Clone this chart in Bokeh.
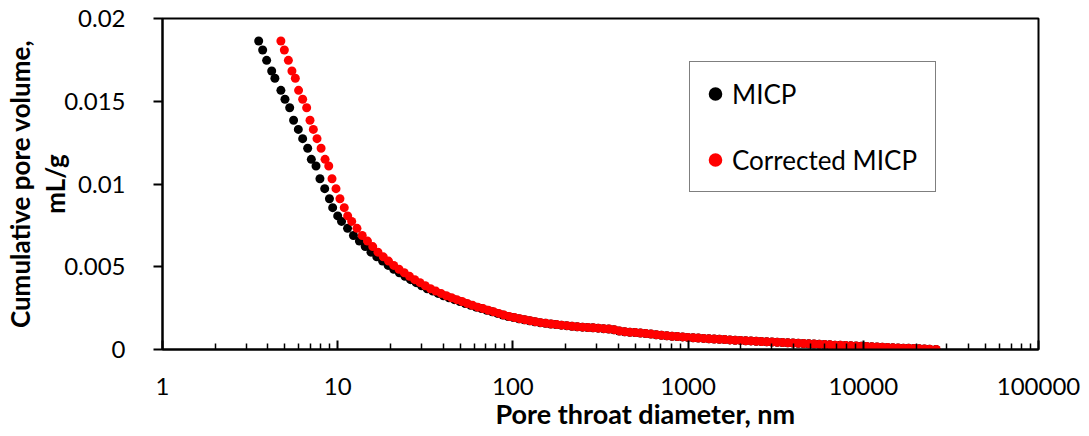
from bokeh.plotting import figure
from bokeh.models import (Legend, LegendItem, CustomJSTickFormatter, FixedTicker, Title)
from bokeh.embed import file_html
from bokeh.resources import INLINE

# ---- data ----
cum_volume = [
    0.01864, 0.01810, 0.01747, 0.01683, 0.01639, 0.01566, 0.01512, 0.01461, 0.01385, 0.01330,
    0.01274, 0.01216, 0.01149, 0.01109, 0.01032, 0.00972, 0.00911, 0.00857, 0.00807,
    0.00774, 0.00732, 0.00689, 0.00655, 0.00622, 0.00588, 0.00560, 0.00534, 0.00508, 0.00485,
    0.00464, 0.00442, 0.00422, 0.00404, 0.00385, 0.00367, 0.00353, 0.00339, 0.00325, 0.00313,
    0.00301, 0.00290, 0.00278, 0.00267, 0.00256, 0.00247, 0.00237, 0.00228, 0.00218, 0.00208,
    0.00199, 0.00193, 0.00186, 0.00180, 0.00174, 0.00168, 0.00162, 0.00158, 0.00154, 0.00151,
    0.00147, 0.00144, 0.00140, 0.00137, 0.00135, 0.00133, 0.00131, 0.00129, 0.00126, 0.00124,
    0.00119, 0.00112, 0.00107, 0.00104, 0.00102, 0.00099, 0.00096, 0.00093, 0.00089, 0.00086,
    0.00083, 0.00080, 0.00078, 0.00076, 0.00073, 0.00071, 0.00069, 0.00067, 0.00065, 0.00063,
    0.00062, 0.00060, 0.00058, 0.00056, 0.00055, 0.00053, 0.00052, 0.00050, 0.00048, 0.00047,
    0.00045, 0.00044, 0.00042, 0.00041, 0.00039, 0.00038, 0.00036, 0.00034, 0.00033, 0.00031,
    0.00030, 0.00028, 0.00026, 0.00025, 0.00024, 0.00022, 0.00021, 0.00019, 0.00018, 0.00016,
    0.00015, 0.00013, 0.00012, 0.00010, 0.00009, 0.00008, 0.00007, 0.00006, 0.00004, 0.00003,
    0.00002, 0.00000,
]

diam_micp = [
    3.54, 3.73, 3.93, 4.20, 4.38, 4.74, 5.00, 5.32, 5.60, 5.96,
    6.31, 6.74, 7.07, 7.52, 7.92, 8.43, 8.97, 9.36, 10.0,
    10.52, 11.38, 12.30, 13.30, 14.36, 15.49, 16.71, 18.04, 19.41, 20.89,
    22.48, 24.20, 26.05, 28.05, 30.11, 32.42, 34.85, 37.40, 40.16, 43.16,
    46.33, 49.80, 53.45, 57.39, 61.68, 66.15, 70.95, 76.10, 81.63, 87.55,
    93.90, 100.7, 108.0, 115.8, 124.2, 133.0, 142.6, 152.9, 164.0, 175.7,
    188.4, 202.0, 216.6, 232.1, 248.7, 266.5, 285.5, 305.9, 327.8, 351.3,
    376.4, 403.4, 433.0, 464.0, 497.2, 532.7, 570.8, 611.7, 655.5, 702.3,
    754.1, 808.0, 865.8, 927.7, 994, 1066, 1141, 1223, 1311, 1406,
    1506, 1614, 1729, 1853, 1985, 2127, 2280, 2443, 2617, 2804,
    3005, 3220, 3450, 3697, 3961, 4245, 4548, 4874, 5222, 5595,
    5996, 6425, 6884, 7376, 7903, 8469, 9075, 9723, 10420, 11160,
    11960, 12820, 13730, 14720, 15770, 16900, 18110, 19400, 20790, 22280,
    23870, 25970,
]

diam_corrected = [
    4.74, 4.96, 5.23, 5.48, 5.73, 5.98, 6.31, 6.65, 6.95, 7.26,
    7.62, 8.04, 8.47, 8.89, 9.28, 9.78, 10.3, 10.9, 11.4,
    12.02, 12.88, 13.80, 14.79, 15.85, 16.98, 18.20, 19.50, 20.89, 22.39,
    23.99, 25.70, 27.54, 29.51, 31.62, 33.88, 36.31, 38.90, 41.69, 44.67,
    47.86, 51.29, 54.95, 58.88, 63.10, 67.61, 72.44, 77.62, 83.18, 89.13,
    95.50, 102.3, 109.6, 117.5, 125.9, 134.9, 144.5, 154.9, 166.0, 177.8,
    190.5, 204.2, 218.8, 234.4, 251.2, 269.2, 288.4, 309.0, 331.1, 354.8,
    380.2, 407.4, 436.5, 467.7, 501.2, 537.0, 575.4, 616.6, 660.7, 707.9,
    758.6, 812.8, 871.0, 933.3, 1000, 1072, 1148, 1230, 1318, 1413,
    1514, 1622, 1738, 1862, 1995, 2138, 2291, 2455, 2630, 2818,
    3020, 3236, 3467, 3715, 3981, 4266, 4571, 4898, 5248, 5623,
    6026, 6457, 6918, 7413, 7943, 8511, 9120, 9772, 10470, 11220,
    12020, 12880, 13800, 14790, 15850, 16980, 18200, 19500, 20890, 22390,
    23990, 26100,
]

series_names = ["MICP", "Corrected MICP"]
x_ticks = [1, 10, 100, 1000, 10000, 100000]
y_ticks = [0, 0.005, 0.01, 0.015, 0.02]
x_title = "Pore throat diameter, nm"
y_title = "Cumulative pore volume,\nmL/g"

FONT = "Lato"

p = figure(frame_width=876, frame_height=331, x_axis_type="log",
           x_range=(1, 100000), y_range=(0, 0.02),
           output_backend="svg", toolbar_location=None,
           min_border_left=160, min_border_right=44,
           min_border_top=18, min_border_bottom=86)
p.background_fill_color = "white"
p.border_fill_color = "white"
p.outline_line_color = "black"
p.outline_line_width = 2
p.xgrid.visible = False
p.ygrid.visible = False

r1 = p.scatter(diam_micp, cum_volume, size=9, color="black", line_color=None)
r2 = p.scatter(diam_corrected, cum_volume, size=9, color="#ff0000", line_color=None)

minor = [m * t for t in x_ticks[:-1] for m in range(2, 10)]
xa = p.xaxis[0]
xa.ticker = FixedTicker(ticks=x_ticks, minor_ticks=minor)
xa.formatter = CustomJSTickFormatter(code="return tick.toFixed(0);")
xa.major_tick_in = 9
xa.major_tick_out = 0
xa.minor_tick_in = 6
xa.minor_tick_out = 0
xa.axis_line_width = 2
xa.major_tick_line_width = 2
xa.minor_tick_line_width = 1.5
xa.major_label_text_font = FONT
xa.major_label_text_font_size = "24px"
xa.major_label_text_color = "black"
xa.major_label_standoff = 28

ya = p.yaxis[0]
ya.ticker = FixedTicker(ticks=y_ticks)
ya.formatter = CustomJSTickFormatter(code="return String(Number(tick.toFixed(3)));")
ya.major_tick_in = 0
ya.major_tick_out = 9
ya.minor_tick_line_color = None
ya.axis_line_width = 2
ya.major_tick_line_width = 2
ya.major_label_text_font = FONT
ya.major_label_text_font_size = "24px"
ya.major_label_text_color = "black"
ya.major_label_standoff = 28
ya.axis_label = y_title
ya.axis_label_text_font = FONT
ya.axis_label_text_font_style = "bold"
ya.axis_label_text_font_size = "26px"
ya.axis_label_text_line_height = 1.1
ya.axis_label_text_color = "black"
ya.axis_label_standoff = -10

p.add_layout(Title(text=x_title, align="left", offset=333, standoff=-5,
                   text_font=FONT, text_font_style="bold",
                   text_font_size="27px", text_color="black"), "below")

legend = Legend(items=[LegendItem(label=series_names[0], renderers=[r1]),
                       LegendItem(label=series_names[1], renderers=[r2])],
                location=(527, 157), margin=0, padding=8, spacing=19,
                glyph_width=34, glyph_height=47, label_height=47,
                label_width=195, label_standoff=0,
                label_text_font=FONT, label_text_font_size="26px",
                label_text_color="black",
                border_line_color="black", border_line_width=1.5,
                background_fill_color="white", background_fill_alpha=1)
p.add_layout(legend)

open("out.html", "w").write(file_html(p, INLINE))
